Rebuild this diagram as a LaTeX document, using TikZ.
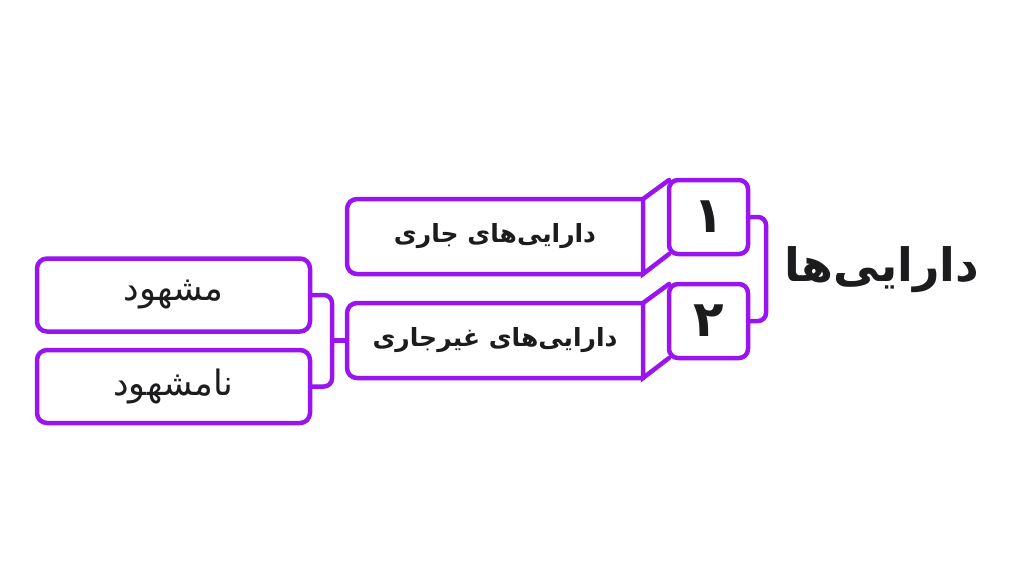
\documentclass[tikz,border=0pt]{standalone}
\usepackage{fontspec}
\TeXXeTstate=1
\newfontfamily\fa[Script=Arabic]{DejaVu Sans}
\definecolor{pur}{RGB}{152,20,240}
\definecolor{ink}{RGB}{28,28,30}
\begin{document}
\begin{tikzpicture}[x=1pt,y=-1pt,
  pl/.style={draw=pur,line width=4.5pt,line cap=round,line join=round},
  mainbox/.style={inner sep=0pt,outer sep=0pt,minimum width=296pt,minimum height=75pt,text=ink,font=\fa\bfseries\fontsize{25}{30}\selectfont},
  numbox/.style={pl,rounded corners=9pt,inner sep=0pt,outer sep=0pt,minimum width=79pt,minimum height=74pt,text=ink,font=\fa\bfseries\fontsize{50}{54}\selectfont},
  subbox/.style={pl,rounded corners=10pt,inner sep=0pt,outer sep=0pt,minimum width=273pt,minimum height=73pt,text=ink,font=\fa\fontsize{35}{40}\selectfont},
  titletext/.style={text=ink,font=\fa\bfseries\fontsize{46}{50}\selectfont}]
\useasboundingbox (0,0) rectangle (1024,576);
% nodes
\node[mainbox] (b1) at (495,236.5) {\beginR دارایی‌های جاری\endR};
\node[mainbox] (b2) at (495,340.5) {\beginR دارایی‌های غیرجاری\endR};
\node[numbox] (n1) at (708.5,217) {۱};
\node[numbox] (n2) at (708.5,321) {۲};
\node[subbox] (m1) at (173.5,295) {\beginR مشهود\endR};
\node[subbox] (m2) at (173.5,386.5) {\beginR نامشهود\endR};
\node[titletext] (t) at (882,270) {\beginR دارایی‌ها\endR};
% main boxes with 3D joints
\foreach \b/\n in {b1/n1,b2/n2}{
  \draw[pl,rounded corners=10pt] (\b.north east) -- (\b.north west) -- (\b.south west) -- (\b.south east);
  \draw[pl,line join=miter] (\n.south west) -- (\b.south east) -- (\b.north east) -- (\n.north west);
}
% right bracket
\draw[pl,rounded corners=8pt] (n1.east) -- ++(18,0) |- (n2.east);
% left bracket
\draw[pl,rounded corners=8pt] (m1.east) -- ++(22,0) |- (m2.east);
\draw[pl] (b2.west) -- ++(-15,0);
\end{tikzpicture}
\end{document}
